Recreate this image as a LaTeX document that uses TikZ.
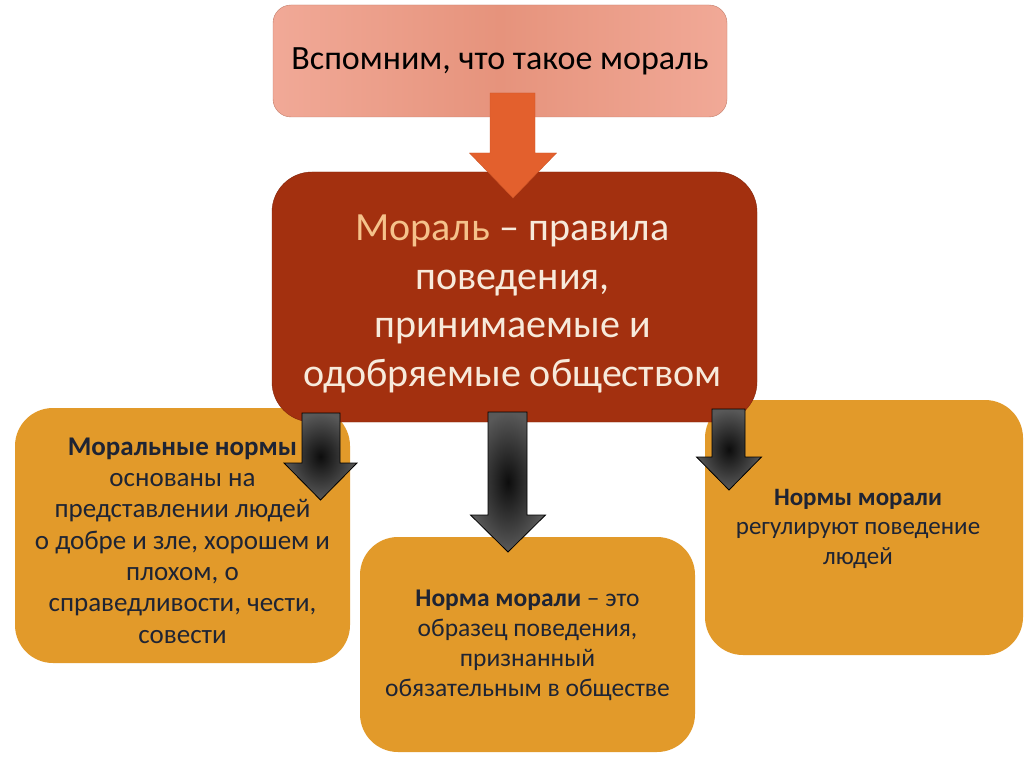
\documentclass[tikz,border=0pt]{standalone}
\usepackage{fontspec}
\setmainfont{Carlito}
\usetikzlibrary{calc}

\definecolor{recallfill}{HTML}{E6937C}
\definecolor{recalledge}{HTML}{F1A997}
\definecolor{morfill}{HTML}{A3300F}
\definecolor{normfill}{HTML}{E29A2A}
\definecolor{normtext}{HTML}{1E2434}
\definecolor{creamtext}{HTML}{F7EADB}
\definecolor{peachtext}{HTML}{F5C28B}
\definecolor{pointer}{HTML}{E3602D}

\tikzset{
  boxbase/.style={inner sep=0pt, outer sep=0pt},
  recallbox/.style={boxbase, rounded corners=18pt, draw=recallfill!85!black,
    left color=recalledge, right color=recalledge, middle color=recallfill},
  morbox/.style={boxbase, rounded corners=40pt, fill=morfill, draw=morfill!80!black},
  normbox/.style={boxbase, rounded corners=38pt, fill=normfill},
  normtxt/.style={align=center, text=normtext},
  bigarrow/.style={fill=pointer, draw=pointer!90!black},
  darkarrow/.style={draw=black, line width=0.8pt, inner color=black!95, outer color=black!65}
}

% top centre, tip, shaft half width, head half width, head length
\newcommand{\blockarrow}[6][]{%
  \draw[#1] let \p1=(#2), \p2=(#3) in
    (\x1-#4,\y1) -- (\x1+#4,\y1) -- (\x1+#4,\y2+#6) -- (\x2+#5,\y2+#6)
    -- (\x2,\y2) -- (\x2-#5,\y2+#6) -- (\x1-#4,\y2+#6) -- cycle;}

\begin{document}
\begin{tikzpicture}[x=1pt, y=-1pt]
  \fill[white] (0,0) rectangle (1024,767);
  \useasboundingbox (0,0) rectangle (1024,767);

  \node[recallbox, minimum width=454pt, minimum height=112pt] (recall) at (500,61)
    {\fontsize{34}{40}\selectfont Вспомним, что такое мораль};

  \node[normbox, minimum width=335pt, minimum height=255pt] (leftnorm) at (182.5,535.5) {};
  \node[normbox, minimum width=335pt, minimum height=215pt] (midnorm) at (527.5,644.5) {};
  \node[normbox, minimum width=318pt, minimum height=255pt] (rightnorm) at (864,527.5) {};

  \node[morbox, minimum width=485pt, minimum height=250pt] (morality) at (514.5,297) {};

  \node[align=center, text=creamtext, font=\fontsize{40}{48.5}\selectfont] (moraltxt)
    at ($(morality)+(-2,7)$)
    {\textcolor{peachtext}{Мораль} – правила\\ поведения,\\ принимаемые и\\ одобряемые обществом};

  \node[normtxt, font=\fontsize{27}{31.3}\selectfont] (lefttxt) at ($(leftnorm)+(0,5)$)
    {\textbf{Моральные нормы}\\ основаны на\\ представлении людей\\ о добре и зле, хорошем и\\
     плохом, о\\ справедливости, чести,\\ совести};
  \node[normtxt, font=\fontsize{25.5}{30}\selectfont] (midtxt) at ($(midnorm)+(0,1)$)
    {\textbf{Норма морали} – это\\ образец поведения,\\ признанный\\ обязательным в обществе};
  \node[normtxt, font=\fontsize{25}{29.5}\selectfont] (righttxt) at ($(rightnorm)+(-6,1)$)
    {\textbf{Нормы морали}\\ регулируют поведение\\ людей};

  % arrows
  \coordinate (p0) at (512.5,93);  \coordinate (q0) at (513,198);
  \coordinate (p1) at (321,413);   \coordinate (q1) at (320.5,500);
  \coordinate (p2) at (507.5,412); \coordinate (q2) at (508,552);
  \coordinate (p3) at (728.5,409); \coordinate (q3) at (729,490);

  \blockarrow[bigarrow]{p0}{q0}{22.5}{43.5}{45}
  \blockarrow[darkarrow]{p1}{q1}{19}{36.5}{37}
  \blockarrow[darkarrow]{p2}{q2}{19.5}{37.5}{37}
  \blockarrow[darkarrow]{p3}{q3}{16.5}{32.5}{33}
\end{tikzpicture}
\end{document}
